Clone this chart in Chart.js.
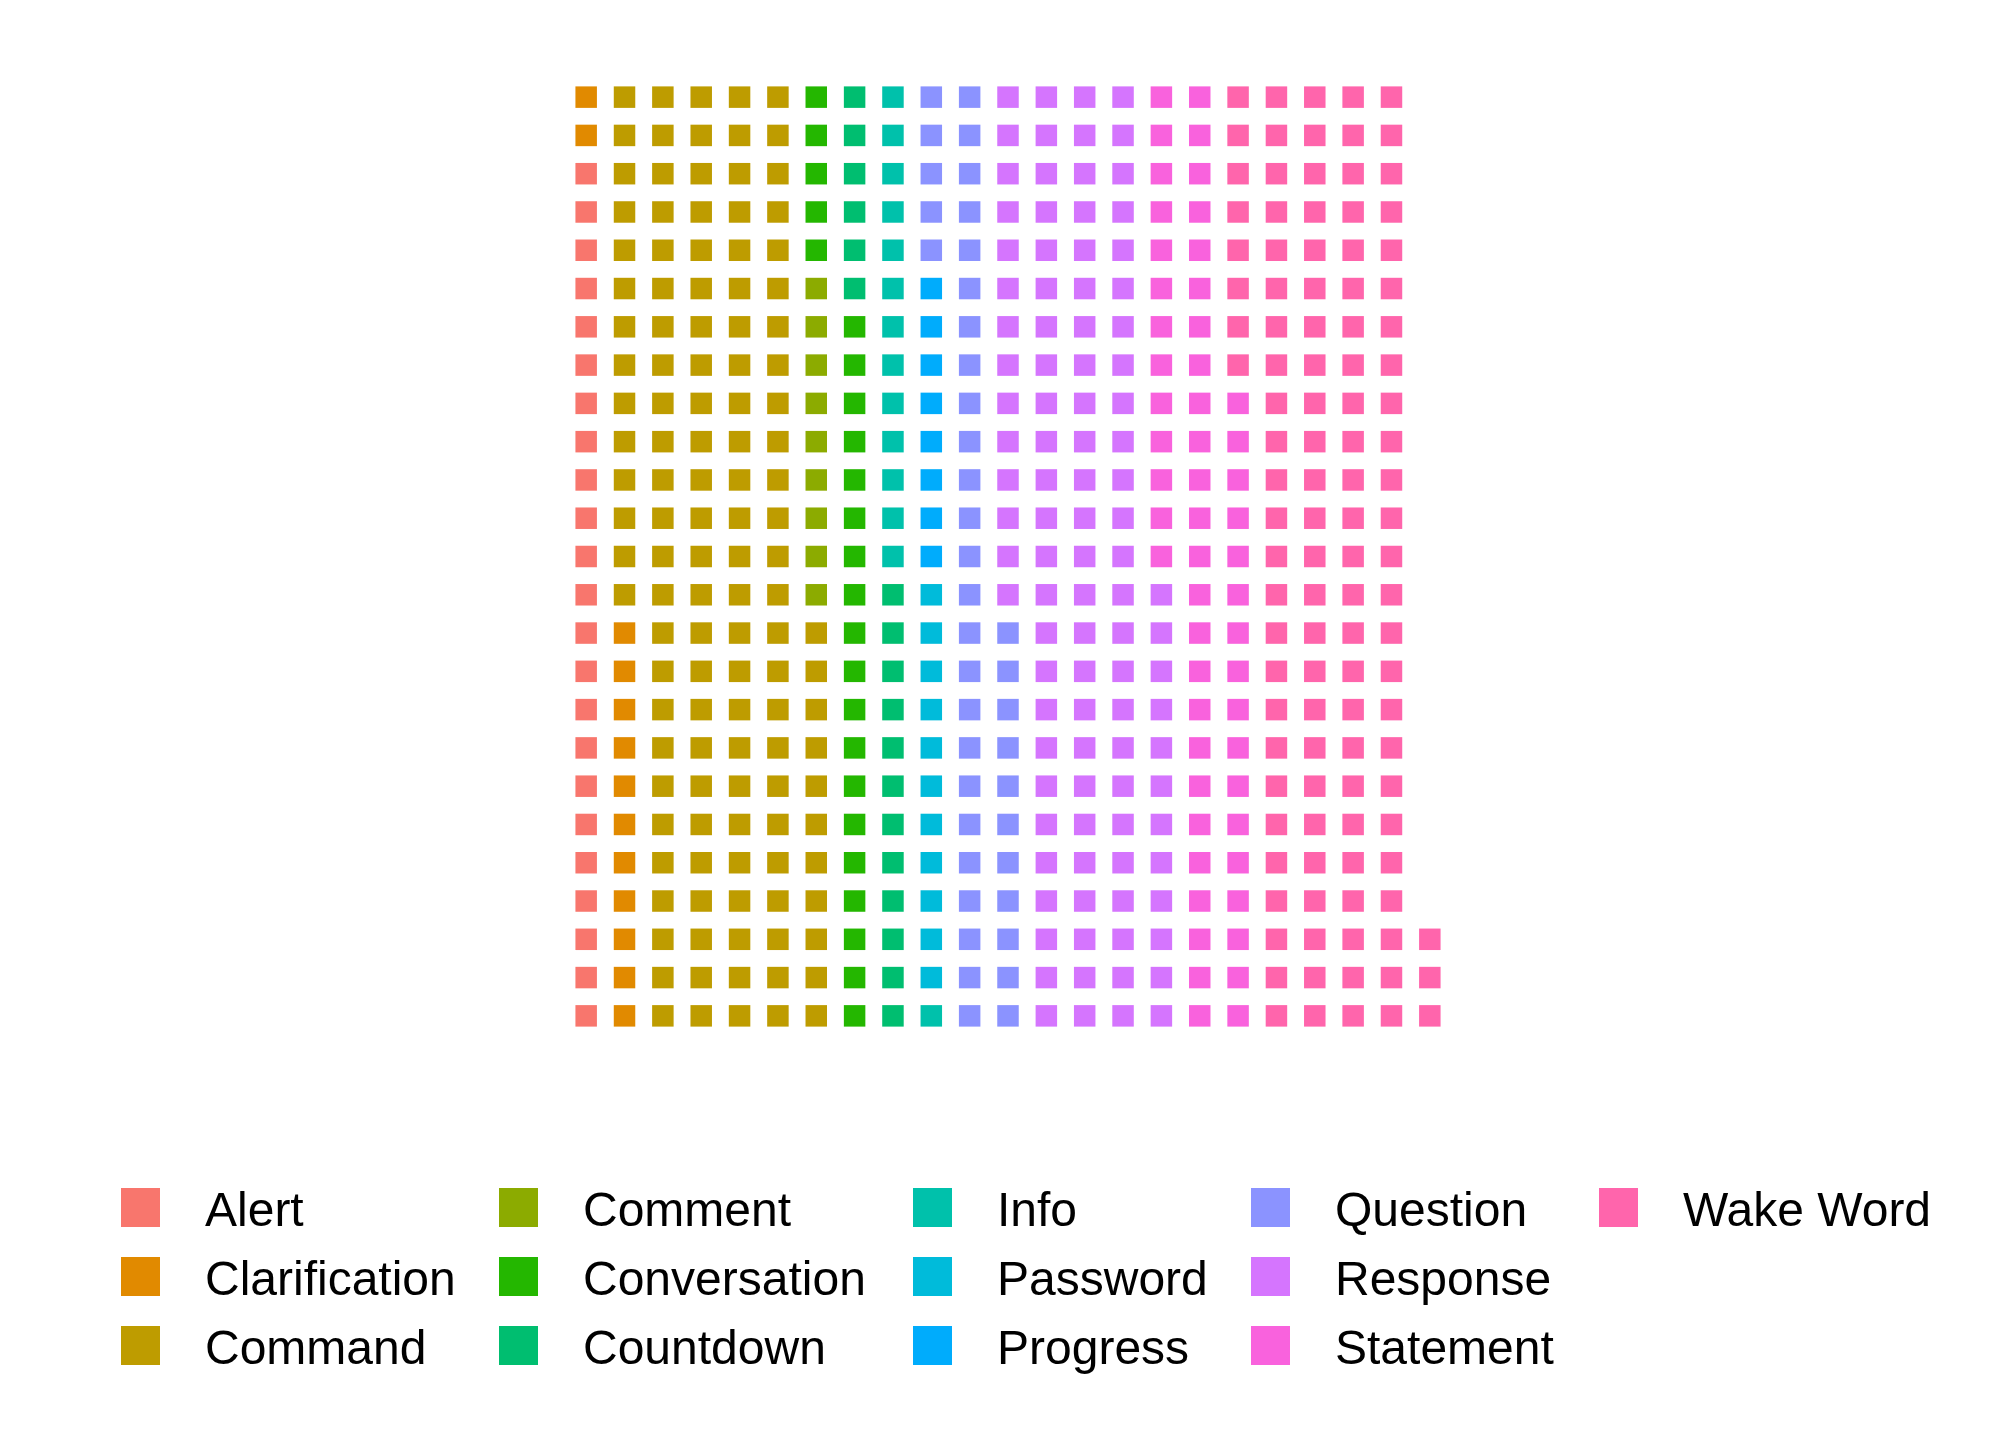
<!DOCTYPE html>
<html>
<head>
<meta charset="utf-8">
<script src="https://cdn.jsdelivr.net/npm/chart.js@4"></script>
<style>
  html, body { margin: 0; padding: 0; background: #ffffff; }
  #wrap { width: 2016px; height: 1440px; }
</style>
</head>
<body>
<div id="wrap"><canvas id="c" width="2016" height="1440"></canvas></div>
<script>
// ---- Data ----
const categories = ["Alert", "Clarification", "Command", "Comment", "Conversation", "Countdown",
  "Info", "Password", "Progress", "Question", "Response", "Statement", "Wake Word"];
const counts = [23, 13, 125, 9, 24, 18, 14, 11, 8, 41, 101, 55, 111];
const colors = ["#F8766D", "#E18A00", "#BE9C00", "#8CAB00", "#24B700", "#00BE70",
  "#00C1AB", "#00BBDA", "#00ACFC", "#8B93FF", "#D575FE", "#F962DD", "#FF65AC"];
const nRows = 25;

// Build waffle cells: fill column by column, bottom to top
const datasets = [];
let idx = 0;
categories.forEach((cat, k) => {
  const pts = [];
  for (let j = 0; j < counts[k]; j++) {
    pts.push({ x: Math.floor(idx / nRows) + 1, y: (idx % nRows) + 1 });
    idx++;
  }
  datasets.push({
    label: cat,
    data: pts,
    backgroundColor: colors[k],
    borderWidth: 0,
    pointStyle: 'rect',
    pointRadius: 15.2,
    pointHoverRadius: 15.2
  });
});
const nCols = Math.ceil(idx / nRows);

const legendPlugin = {
  id: 'waffleLegend',
  afterDraw(chart) {
    const ctx = chart.ctx;
    const keyX = [121, 499, 913, 1251, 1599];
    const rowY = [1207.5, 1276.5, 1345.5];
    const key = 39;
    ctx.save();
    ctx.font = '48px "Liberation Sans", Arial, sans-serif';
    ctx.textBaseline = 'alphabetic';
    ctx.textAlign = 'left';
    chart.data.datasets.forEach((ds, k) => {
      const col = Math.floor(k / 3), row = k % 3;
      const x = keyX[col], cy = rowY[row];
      ctx.fillStyle = ds.backgroundColor;
      ctx.fillRect(x, cy - key / 2, key, key);
      ctx.fillStyle = '#000000';
      ctx.fillText(ds.label, x + 84, cy + 18);
    });
    ctx.restore();
  }
};

new Chart(document.getElementById('c'), {
  type: 'scatter',
  data: { datasets },
  options: {
    responsive: false,
    animation: false,
    devicePixelRatio: 1,
    events: [],
    layout: { padding: { left: 567, right: 567, top: 78, bottom: 405 } },
    scales: {
      x: { type: 'linear', display: false, min: 0.5, max: nCols + 0.5 },
      y: { type: 'linear', display: false, min: 0.5, max: nRows + 0.5 }
    },
    plugins: {
      legend: { display: false },
      tooltip: { enabled: false }
    }
  },
  plugins: [legendPlugin]
});
</script>
</body>
</html>
